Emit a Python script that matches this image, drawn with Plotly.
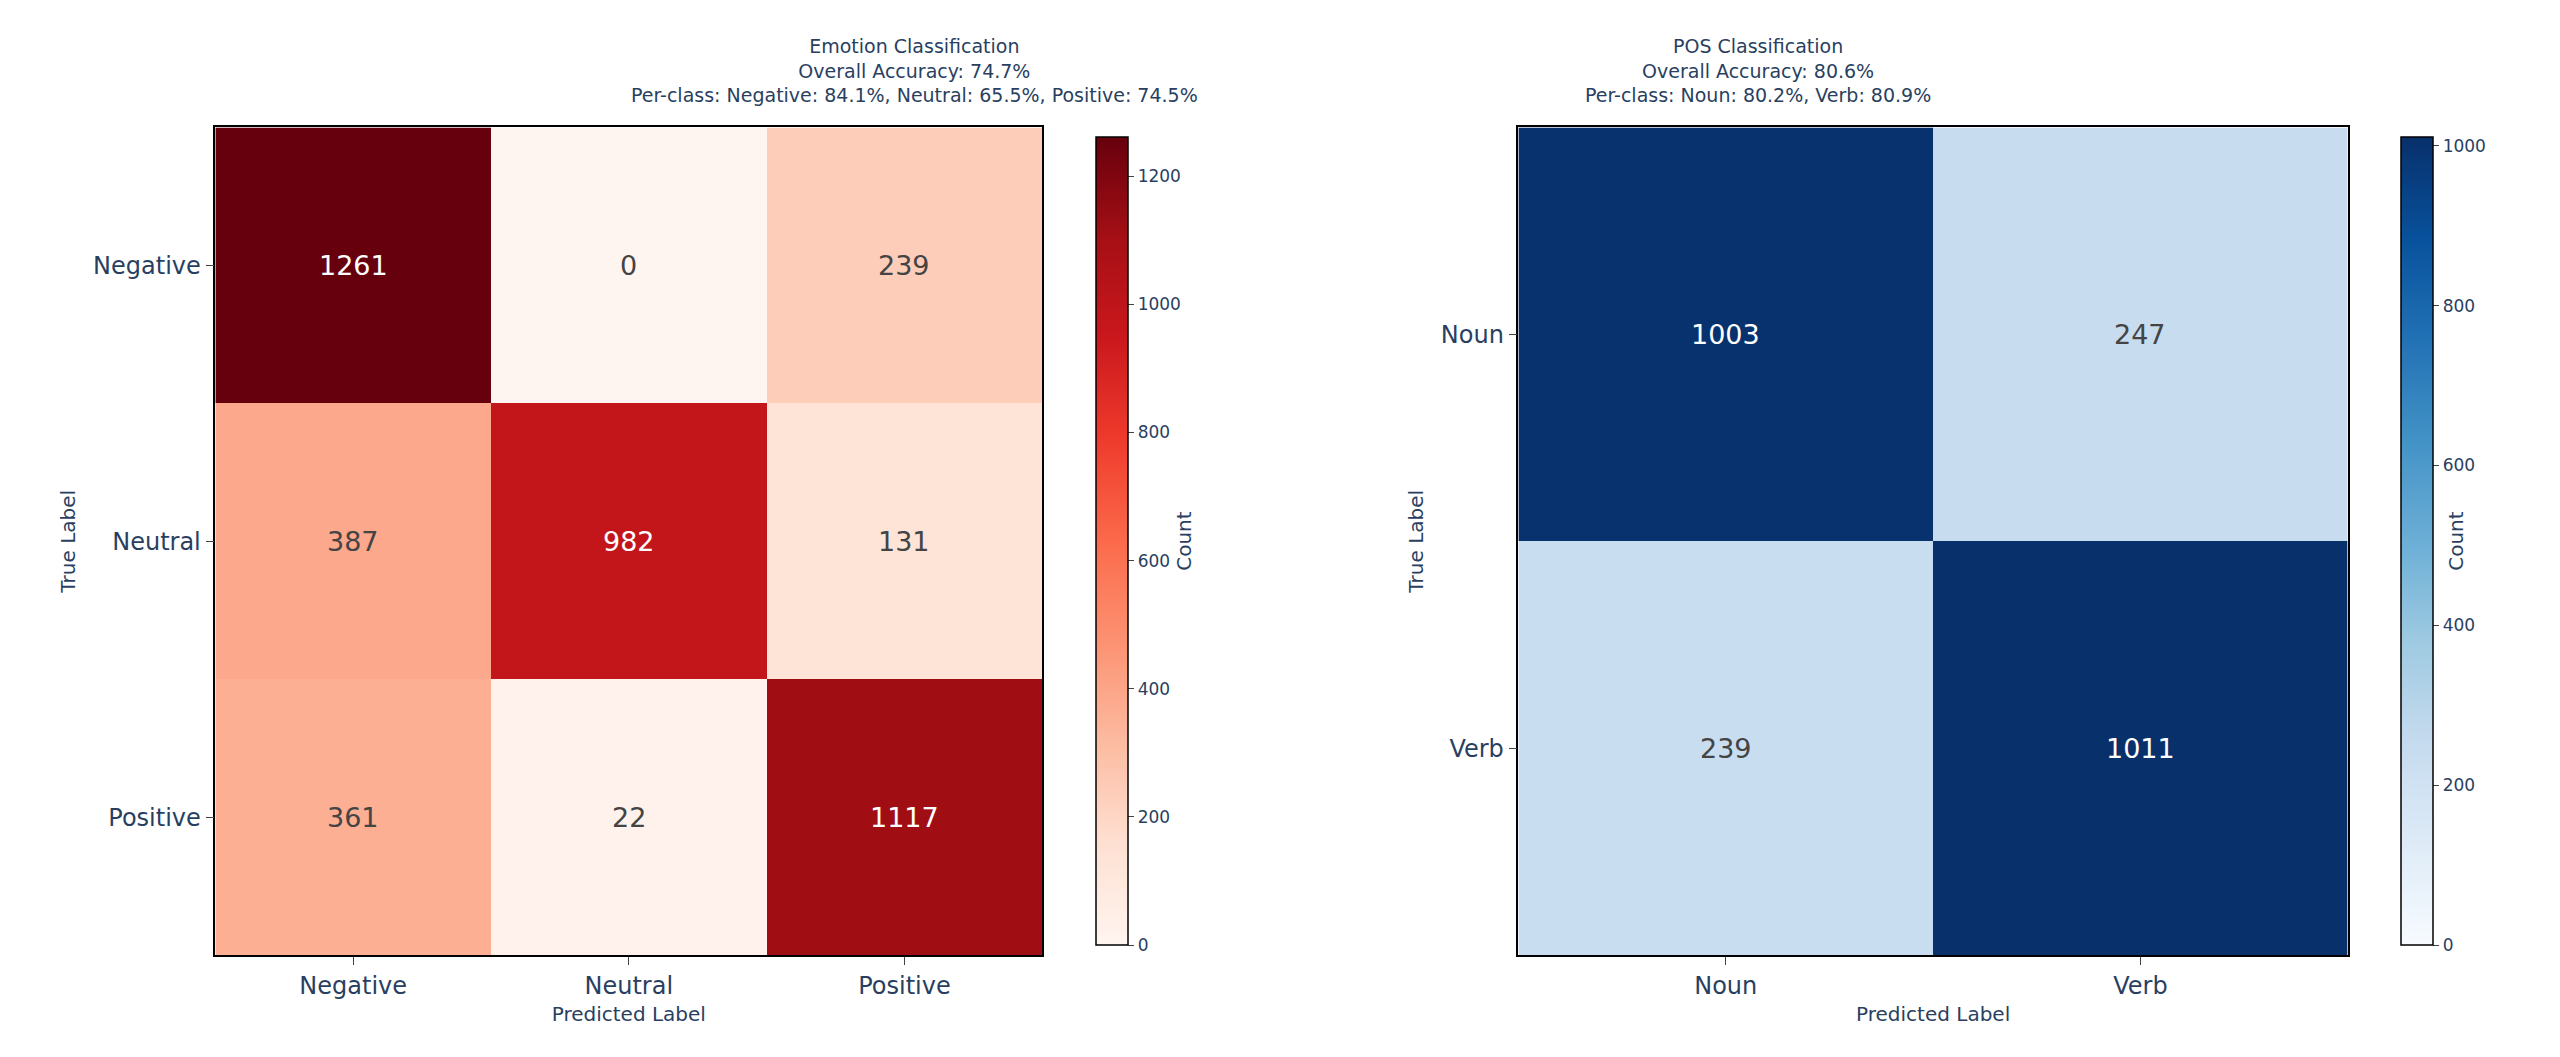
import plotly.graph_objects as go

emo_labels = ["Negative", "Neutral", "Positive"]
emo_counts = [[1261, 0, 239],
              [387, 982, 131],
              [361, 22, 1117]]
pos_labels = ["Noun", "Verb"]
pos_counts = [[1003, 247],
              [239, 1011]]

emo_title = "Emotion Classification<br>Overall Accuracy: 74.7%<br>Per-class: Negative: 84.1%, Neutral: 65.5%, Positive: 74.5%"
pos_title = "POS Classification<br>Overall Accuracy: 80.6%<br>Per-class: Noun: 80.2%, Verb: 80.9%"

FONT = "DejaVu Sans"
fig = go.Figure()

panels = [
    (emo_labels, emo_counts, "Reds", "x", "y", [0.081, 0.404], 0.421, [0, 200, 400, 600, 800, 1000, 1200], emo_title),
    (pos_labels, pos_counts, "Blues", "x2", "y2", [0.590, 0.914], 0.931, [0, 200, 400, 600, 800, 1000], pos_title),
]

annotations = []
for i, (labels, z, cs, xa, ya, dom, cbx, ticks, title) in enumerate(panels):
    zmax = max(max(r) for r in z)
    fig.add_trace(go.Heatmap(
        z=z, x=labels, y=labels, colorscale=cs, zmin=0, zmax=zmax,
        xaxis=xa, yaxis=ya, xgap=0, ygap=0,
        colorbar=dict(x=cbx, xanchor="left", y=0.104, yanchor="bottom", len=0.783,
                      lenmode="fraction", thickness=32, outlinewidth=1.5, outlinecolor="black",
                      tickvals=ticks, ticks="outside", ticklen=6,
                      tickfont=dict(size=17, family=FONT),
                      title=dict(text="Count", side="right", font=dict(size=20, family=FONT))),
    ))
    for r, row in enumerate(z):
        for c, v in enumerate(row):
            annotations.append(dict(
                x=labels[c], y=labels[r], xref=xa, yref=ya, text=str(v), showarrow=False,
                font=dict(size=27, family=FONT, color="white" if v > zmax / 2 else "#444444")))
    annotations.append(dict(x=sum(dom) / 2, y=0.905, xref="paper", yref="paper", text=title,
                            showarrow=False, yanchor="bottom", font=dict(size=19, family=FONT)))

axis_common = dict(showline=True, linecolor="black", linewidth=1.5, mirror=True,
                   ticks="outside", ticklen=8, showgrid=False, zeroline=False,
                   tickfont=dict(size=24, family=FONT))
fig.update_layout(
    width=2560, height=1057, margin=dict(l=0, r=0, t=0, b=0),
    plot_bgcolor="white", paper_bgcolor="white",
    xaxis=dict(domain=[0.081, 0.404], anchor="y", title=dict(text="Predicted Label", font=dict(size=20, family=FONT), standoff=8), **axis_common),
    yaxis=dict(domain=[0.104, 0.887], anchor="x", autorange="reversed", title=dict(text="True Label", font=dict(size=20, family=FONT), standoff=12), **axis_common),
    xaxis2=dict(domain=[0.590, 0.914], anchor="y2", title=dict(text="Predicted Label", font=dict(size=20, family=FONT), standoff=8), **axis_common),
    yaxis2=dict(domain=[0.104, 0.887], anchor="x2", autorange="reversed", title=dict(text="True Label", font=dict(size=20, family=FONT), standoff=12), **axis_common),
    annotations=annotations,
)
fig.write_html("out.html")
